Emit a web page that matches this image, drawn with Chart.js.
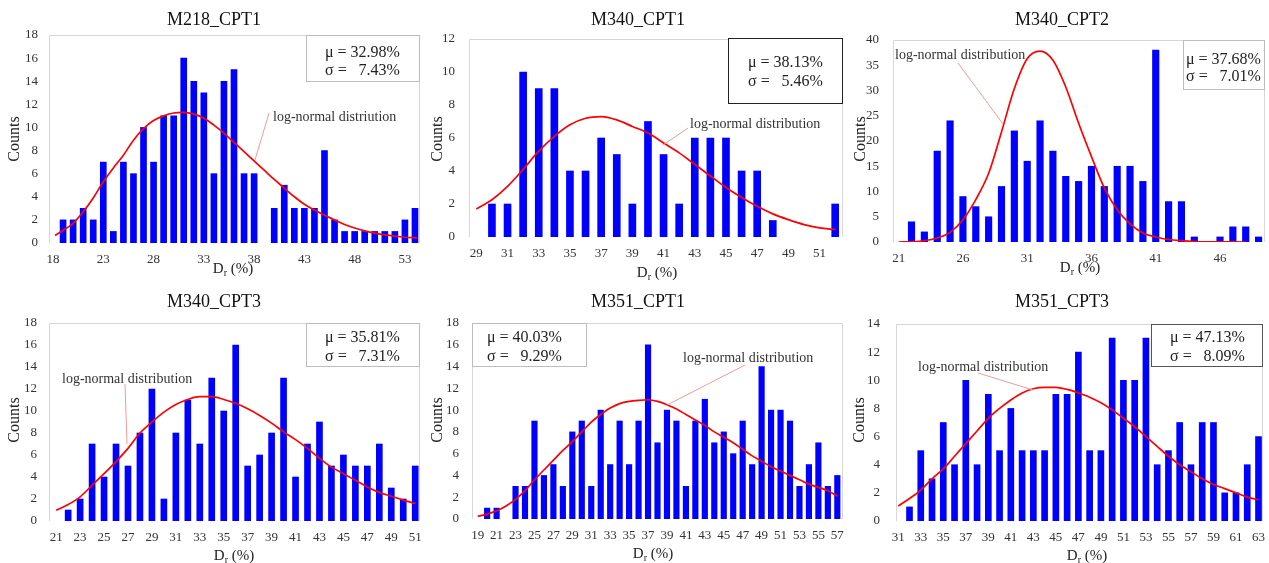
<!DOCTYPE html>
<html>
<head>
<meta charset="utf-8">
<title>Relative density histograms</title>
<script src="https://cdn.jsdelivr.net/npm/chart.js@4.4.1/dist/chart.umd.min.js"></script>
<style>
  html, body { margin: 0; padding: 0; background: #ffffff; }
  body { position: relative; width: 1269px; height: 563px; overflow: hidden; }
  canvas { position: absolute; }
</style>
</head>
<body>
<canvas id="p1"></canvas>
<canvas id="p2"></canvas>
<canvas id="p3"></canvas>
<canvas id="p4"></canvas>
<canvas id="p5"></canvas>
<canvas id="p6"></canvas>
<script>
// ---------- M218_CPT1 ----------
const m218Bins   = [19,20,21,22,23,24,25,26,27,28,29,30,31,32,33,34,35,36,37,38,39,40,41,42,43,44,45,46,47,48,49,50,51,52,53,54];
const m218Counts = [2,2,3,2,7,1,7,6,10,7,11,11,16,14,13,6,14,15,6,6,0,3,5,3,3,3,8,2,1,1,1,1,1,1,2,3];
const m218FitX   = [18.2,19,20,21,22,23,24,25,26,27,28,29,30,31,32,33,34,35,36,37,38,39,40,41,42,43,44,45,46,47,48,49,50,51,52,53,54.2];
const m218FitY   = [0.65,1.1,1.7,2.7,3.9,5.3,6.5,7.6,8.9,9.9,10.6,11.0,11.25,11.3,11.15,10.8,10.2,9.5,8.7,7.9,7.1,6.3,5.5,4.75,4.0,3.35,2.85,2.4,2.0,1.6,1.3,1.05,0.85,0.7,0.6,0.5,0.45];
const m218Ticks  = [18,23,28,33,38,43,48,53];

// ---------- M340_CPT1 ----------
const m340aBins   = [30,31,32,33,34,35,36,37,38,39,40,41,42,43,44,45,46,47,48,49,50,51,52];
const m340aCounts = [2,2,10,9,9,4,4,6,5,2,7,5,2,6,6,6,4,4,1,0,0,0,2];
const m340aFitX   = [29,30,31,32,33,34,35,36,37,38,39,40,41,42,43,44,45,46,47,48,49,50,51,52];
const m340aFitY   = [1.7,2.26,3.07,4.1,5.2,6.1,6.8,7.2,7.3,7.1,6.7,6.3,5.7,5.1,4.4,3.7,3.0,2.4,1.86,1.4,1.05,0.75,0.55,0.44];
const m340aTicks  = [29,31,33,35,37,39,41,43,45,47,49,51];

// ---------- M340_CPT2 ----------
const m340bBins   = [22,23,24,25,26,27,28,29,30,31,32,33,34,35,36,37,38,39,40,41,42,43,44,45,46,47,48,49];
const m340bCounts = [4,2,18,24,9,7,5,11,22,16,24,18,13,12,15,11,15,15,12,38,8,8,1,0,1,3,3,1];
const m340bFitX   = [21,22,23,24,25,26,27,28,29,30,31,32,33,34,35,36,37,38,39,40,41,42,43,44,45,46,47,48];
const m340bFitY   = [0,0.05,0.25,0.8,1.9,4.4,8.4,13.6,21.8,30.4,36.3,37.8,36.0,30.7,23.5,16.9,10.7,6.4,3.6,1.8,1.0,0.5,0.26,0.1,0.04,0.02,0.01,0];
const m340bTicks  = [21,26,31,36,41,46];

// ---------- M340_CPT3 ----------
const m340cBins   = [22,23,24,25,26,27,28,29,30,31,32,33,34,35,36,37,38,39,40,41,42,43,44,45,46,47,48,49,50,51];
const m340cCounts = [1,2,7,4,7,5,8,12,2,8,11,7,13,10,16,5,6,8,13,4,7,9,5,6,5,5,7,3,2,5];
const m340cFitX   = [21,22,23,24,25,26,27,28,29,30,31,32,33,34,35,36,37,38,39,40,41,42,43,44,45,46,47,48,49,50,51];
const m340cFitY   = [0.97,1.5,2.2,3.25,4.3,5.4,6.6,8.0,9.0,9.9,10.6,11.05,11.3,11.3,11.05,10.7,10.2,9.6,8.9,8.1,7.4,6.6,5.7,4.9,4.3,3.7,3.1,2.6,2.25,1.9,1.6];
const m340cTicks  = [21,23,25,27,29,31,33,35,37,39,41,43,45,47,49,51];

// ---------- M351_CPT1 ----------
const m351aBins   = [20,21,22,23,24,25,26,27,28,29,30,31,32,33,34,35,36,37,38,39,40,41,42,43,44,45,46,47,48,49,50,51,52,53,54,55,56,57];
const m351aCounts = [1,1,0,3,3,9,4,5,3,8,9,3,10,5,9,5,9,16,7,10,9,3,9,11,7,8,6,9,5,14,10,10,9,3,5,7,3,4];
const m351aFitX   = [19,20,21,22,23,24,25,26,27,28,29,30,31,32,33,34,35,36,37,38,39,40,41,42,43,44,45,46,47,48,49,50,51,52,53,54,55,56,57];
const m351aFitY   = [0.25,0.45,0.75,1.2,1.8,2.6,3.6,4.5,5.4,6.3,7.1,8.0,8.9,9.6,10.2,10.6,10.8,10.9,10.95,10.8,10.5,10.1,9.6,9.1,8.6,8.0,7.5,7.0,6.4,5.8,5.3,4.8,4.4,4.0,3.6,3.2,2.9,2.6,2.1];
const m351aTicks  = [19,21,23,25,27,29,31,33,35,37,39,41,43,45,47,49,51,53,55,57];

// ---------- M351_CPT3 ----------
const m351bBins   = [32,33,34,35,36,37,38,39,40,41,42,43,44,45,46,47,48,49,50,51,52,53,54,55,56,57,58,59,60,61,62,63];
const m351bCounts = [1,5,3,7,4,10,4,9,5,8,5,5,5,9,9,12,5,5,13,10,10,13,4,5,7,4,7,7,2,2,4,6];
const m351bFitX   = [31,32,33,34,35,36,37,38,39,40,41,42,43,44,45,46,47,48,49,50,51,52,53,54,55,56,57,58,59,60,61,62,63];
const m351bFitY   = [1.07,1.6,2.2,3.0,3.7,4.6,5.5,6.4,7.3,8.0,8.6,9.1,9.4,9.5,9.5,9.35,9.1,8.8,8.4,7.9,7.3,6.7,6.0,5.3,4.6,4.0,3.5,3.0,2.6,2.3,2.0,1.7,1.5];
const m351bTicks  = [31,33,35,37,39,41,43,45,47,49,51,53,55,57,59,61,63];

const FONT = "'Liberation Serif', 'Times New Roman', Times, serif";

// Layout of each panel: canvas cell, plot area (page coords), decorations.
const panels = [
  { id:'p1', title:'M218_CPT1', bins:m218Bins, counts:m218Counts, fitX:m218FitX, fitY:m218FitY, ticks:m218Ticks,
    xMin:17.6, xMax:54.5, yMax:18, yStep:2, barW:6, yPad:11,
    cell:{x:0,y:0,w:423,h:280}, area:{l:49,t:35,r:420,b:243},
    titlePos:[214,20], countsPos:[15,139], drPos:[233,268],
    note:'log-normal distriution', notePos:[273,117], pointer:[[269,113],[255,160]],
    box:{x1:306,y1:35,x2:420,y2:82,stroke:'#bdbdbd',tl:325,l1:53,l2:71},
    mu:'32.98%', sigma:'7.43%' },
  { id:'p2', title:'M340_CPT1', bins:m340aBins, counts:m340aCounts, fitX:m340aFitX, fitY:m340aFitY, ticks:m340aTicks,
    xMin:28.53, xMax:52.5, yMax:12, yStep:2, barW:7, yPad:14,
    cell:{x:423,y:0,w:423,h:280}, area:{l:469,t:39,r:843,b:237},
    titlePos:[638,20], countsPos:[438,139], drPos:[657,272],
    note:'log-normal distribution', notePos:[690,124], pointer:[[688,128],[663,145]],
    box:{x1:728,y1:38,x2:843,y2:104,stroke:'#222222',tl:748,l1:63,l2:82},
    mu:'38.13%', sigma:'5.46%' },
  { id:'p3', title:'M340_CPT2', bins:m340bBins, counts:m340bCounts, fitX:m340bFitX, fitY:m340bFitY, ticks:m340bTicks,
    xMin:20.56, xMax:49.5, yMax:40, yStep:5, barW:6.5, yPad:14,
    cell:{x:846,y:0,w:423,h:280}, area:{l:893,t:40,r:1265,b:242},
    titlePos:[1062,20], countsPos:[861,139], drPos:[1080,267],
    note:'log-normal distribution', notePos:[895,55], pointer:[[958,63],[1003,124]],
    box:{x1:1183,y1:40,x2:1265,y2:90,stroke:'#bdbdbd',tl:1186,l1:60,l2:77},
    mu:'37.68%', sigma:'7.01%' },
  { id:'p4', title:'M340_CPT3', bins:m340cBins, counts:m340cCounts, fitX:m340cFitX, fitY:m340cFitY, ticks:m340cTicks,
    xMin:20.4, xMax:51.4, yMax:18, yStep:2, barW:6, yPad:12,
    cell:{x:0,y:280,w:423,h:283}, area:{l:49,t:323,r:420,b:521},
    titlePos:[214,302], countsPos:[15,420], drPos:[234,555],
    note:'log-normal distribution', notePos:[62,379], pointer:[[125,384],[127,444]],
    box:{x1:306,y1:323,x2:420,y2:367,stroke:'#bdbdbd',tl:325,l1:338,l2:357},
    mu:'35.81%', sigma:'7.31%' },
  { id:'p5', title:'M351_CPT1', bins:m351aBins, counts:m351aCounts, fitX:m351aFitX, fitY:m351aFitY, ticks:m351aTicks,
    xMin:18.4, xMax:57.6, yMax:18, yStep:2, barW:5.5, yPad:13,
    cell:{x:423,y:280,w:423,h:283}, area:{l:472,t:323,r:843,b:519},
    titlePos:[638,302], countsPos:[438,420], drPos:[653,553],
    note:'log-normal distribution', notePos:[683,358], pointer:[[745,365],[667,405]],
    box:{x1:472,y1:323,x2:587,y2:367,stroke:'#bdbdbd',tl:487,l1:338,l2:357},
    mu:'40.03%', sigma:'9.29%' },
  { id:'p6', title:'M351_CPT3', bins:m351bBins, counts:m351bCounts, fitX:m351bFitX, fitY:m351bFitY, ticks:m351bTicks,
    xMin:30.8, xMax:63.4, yMax:14, yStep:2, barW:6, yPad:16,
    cell:{x:846,y:280,w:423,h:283}, area:{l:896,t:324,r:1263,b:521},
    titlePos:[1062,302], countsPos:[860,420], drPos:[1087,555],
    note:'log-normal distribution', notePos:[918,367], pointer:[[978,373],[1033,390]],
    box:{x1:1151,y1:324,x2:1263,y2:367,stroke:'#555555',tl:1170,l1:338,l2:357},
    mu:'47.13%', sigma:'8.09%' }
];

const Y_AXIS_W = 30;
const X_AXIS_H = 30;

// Titles, axis captions, fit annotation and statistics box
function decorations(p) {
  return {
    id: 'decor',
    beforeDatasetsDraw(chart) {
      const { ctx, chartArea: a } = chart;
      const L = Math.round(a.left) + 0.5, T = Math.round(a.top) + 0.5;
      const R = Math.round(a.right) - 0.5, B = Math.round(a.bottom);
      ctx.save();
      ctx.strokeStyle = '#d6d6d6';
      ctx.lineWidth = 1;
      ctx.beginPath();
      ctx.moveTo(L, B); ctx.lineTo(L, T); ctx.lineTo(R, T); ctx.lineTo(R, B);
      ctx.stroke();
      ctx.restore();
    },
    afterDraw(chart) {
      const ctx = chart.ctx;
      ctx.save();
      ctx.translate(-p.cell.x, -p.cell.y);

      // panel title
      ctx.fillStyle = '#111111';
      ctx.textAlign = 'center';
      ctx.textBaseline = 'middle';
      ctx.font = `18px ${FONT}`;
      ctx.fillText(p.title, p.titlePos[0], p.titlePos[1]);

      // y caption
      ctx.save();
      ctx.translate(p.countsPos[0], p.countsPos[1]);
      ctx.rotate(-Math.PI / 2);
      ctx.font = `16px ${FONT}`;
      ctx.fillStyle = '#222222';
      ctx.fillText('Counts', 0, 0);
      ctx.restore();

      // x caption: D with subscript r
      ctx.textAlign = 'left';
      ctx.textBaseline = 'alphabetic';
      ctx.fillStyle = '#222222';
      const big = `15px ${FONT}`, small = `10px ${FONT}`;
      ctx.font = big; const wD = ctx.measureText('D').width; const wP = ctx.measureText(' (%)').width;
      ctx.font = small; const wR = ctx.measureText('r').width;
      const x0 = p.drPos[0] - (wD + wR + wP) / 2;
      const yb = p.drPos[1] + 5;
      ctx.font = big; ctx.fillText('D', x0, yb);
      ctx.font = small; ctx.fillText('r', x0 + wD, yb + 3);
      ctx.font = big; ctx.fillText(' (%)', x0 + wD + wR, yb);

      // pointer from note to the fitted curve
      ctx.strokeStyle = '#f09a9a';
      ctx.lineWidth = 1;
      ctx.beginPath();
      ctx.moveTo(p.pointer[0][0], p.pointer[0][1]);
      ctx.lineTo(p.pointer[1][0], p.pointer[1][1]);
      ctx.stroke();

      ctx.font = `14px ${FONT}`;
      ctx.fillStyle = '#333333';
      ctx.textBaseline = 'middle';
      ctx.fillText(p.note, p.notePos[0], p.notePos[1]);

      // statistics box
      const b = p.box;
      ctx.fillStyle = '#ffffff';
      ctx.fillRect(b.x1, b.y1, b.x2 - b.x1, b.y2 - b.y1);
      ctx.strokeStyle = b.stroke;
      ctx.strokeRect(b.x1 + 0.5, b.y1 + 0.5, b.x2 - b.x1 - 1, b.y2 - b.y1 - 1);
      ctx.fillStyle = '#222222';
      ctx.font = `16px ${FONT}`;
      ctx.textAlign = 'left';
      const muLine = '\u03BC = ' + p.mu;
      ctx.fillText(muLine, b.tl, b.l1);
      ctx.fillText('\u03C3 =', b.tl, b.l2);
      const right = b.tl + ctx.measureText(muLine).width;
      ctx.textAlign = 'right';
      ctx.fillText(p.sigma, right, b.l2);

      ctx.restore();
    }
  };
}

function build(p) {
  const canvas = document.getElementById(p.id);
  canvas.width = p.cell.w;
  canvas.height = p.cell.h;
  canvas.style.left = p.cell.x + 'px';
  canvas.style.top = p.cell.y + 'px';
  canvas.style.width = p.cell.w + 'px';
  canvas.style.height = p.cell.h + 'px';

  const l = p.area.l - p.cell.x, t = p.area.t - p.cell.y;
  const r = p.area.r - p.cell.x, bt = p.area.b - p.cell.y;
  const padding = { left: l - Y_AXIS_W, top: t, right: p.cell.w - r, bottom: p.cell.h - bt - X_AXIS_H };

  new Chart(canvas, {
    type: 'bar',
    data: {
      datasets: [
        {
          type: 'line',
          data: p.fitX.map((x, i) => ({ x, y: p.fitY[i] })),
          borderColor: '#ff0000',
          borderWidth: 1.7,
          pointRadius: 0,
          fill: false,
          cubicInterpolationMode: 'monotone',
          order: 0
        },
        {
          type: 'bar',
          // empty bins draw no bar
          data: p.bins.map((x, i) => ({ x, y: p.counts[i] === 0 ? null : p.counts[i] })),
          backgroundColor: '#0000ff',
          borderWidth: 0,
          barThickness: p.barW,
          skipNull: true,
          order: 1
        }
      ]
    },
    options: {
      responsive: false,
      animation: false,
      devicePixelRatio: 1,
      layout: { padding },
      plugins: { legend: { display: false }, tooltip: { enabled: false }, title: { display: false } },
      scales: {
        x: {
          type: 'linear',
          min: p.xMin,
          max: p.xMax,
          offset: false,
          grid: { display: false, drawTicks: false },
          border: { display: false },
          ticks: { font: { family: FONT, size: 13 }, color: '#333333', padding: 9, maxRotation: 0, autoSkip: false },
          afterBuildTicks: s => { s.ticks = p.ticks.map(v => ({ value: v })); },
          afterFit: s => { s.height = X_AXIS_H; s.paddingLeft = 0; s.paddingRight = 0; }
        },
        y: {
          min: 0,
          max: p.yMax,
          grid: { display: false, drawTicks: false },
          border: { display: false },
          ticks: { stepSize: p.yStep, font: { family: FONT, size: 13 }, color: '#333333', padding: p.yPad },
          afterFit: s => { s.width = Y_AXIS_W; s.paddingTop = 0; s.paddingBottom = 0; }
        }
      }
    },
    plugins: [decorations(p)]
  });
}

panels.forEach(build);
</script>
</body>
</html>
